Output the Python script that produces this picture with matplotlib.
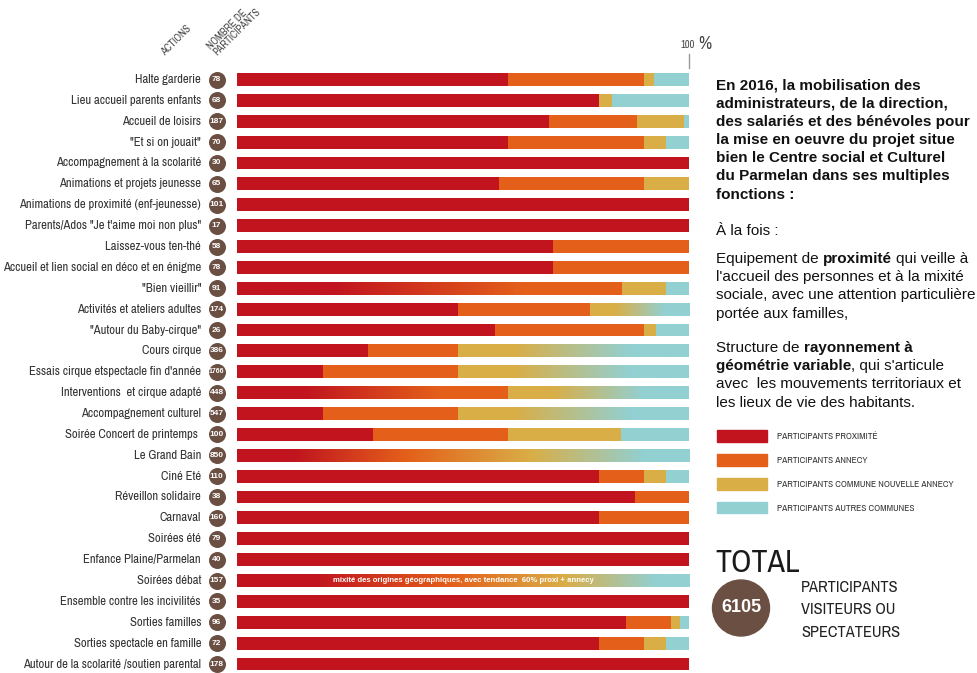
import numpy as np
import matplotlib
matplotlib.use("Agg")
import matplotlib.pyplot as plt
import matplotlib.patches as mpatches
import matplotlib.transforms as mtransforms
from matplotlib.colors import LinearSegmentedColormap
from matplotlib import font_manager

# --- data ---------------------------------------------------------------
actions = [
    "Halte garderie", "Lieu accueil parents enfants", "Accueil de loisirs",
    "\"Et si on jouait\"", "Accompagnement à la scolarité",
    "Animations et projets jeunesse", "Animations de proximité (enf-jeunesse)",
    "Parents/Ados \"Je t'aime moi non plus\"", "Laissez-vous ten-thé",
    "Accueil et lien social en déco et en énigme", "\"Bien vieillir\"",
    "Activités et ateliers adultes", "\"Autour du Baby-cirque\"", "Cours cirque",
    "Essais cirque etspectacle fin d'année", "Interventions  et cirque adapté",
    "Accompagnement culturel", "Soirée Concert de printemps ", "Le Grand Bain",
    "Ciné Eté", "Réveillon solidaire", "Carnaval", "Soirées été",
    "Enfance Plaine/Parmelan", "Soirées débat", "Ensemble contre les incivilités",
    "Sorties familles", "Sorties spectacle en famille",
    "Autour de la scolarité /soutien parental",
]
participants = [78, 68, 187, 70, 30, 65, 101, 17, 58, 78, 91, 174, 26, 386, 1766,
                448, 547, 100, 850, 110, 38, 160, 79, 40, 157, 35, 96, 72, 178]

# percentages per origin
proximite = [60, 80, 69, 60, 100, 58, 100, 100, 70, 70, 42.5, 49, 57, 29, 19,
             30, 19, 30, 25, 80, 88, 80, 100, 100, 35, 100, 86, 80, 100]
annecy = [30, 0, 19.5, 30, 0, 32, 0, 0, 30, 30, 42.5, 29, 33, 20, 30,
          30, 30, 30, 25, 10, 12, 20, 0, 0, 25, 0, 10, 10, 0]
commune_nouvelle = [2.3, 3, 10.5, 5, 0, 10, 0, 0, 0, 0, 10, 11, 2.8, 25.5, 25.5,
                    20, 25.5, 25, 30, 5, 0, 0, 0, 0, 25, 0, 2, 5, 0]
autres = [7.7, 17, 1, 5, 0, 0, 0, 0, 0, 0, 5, 11, 7.2, 25.5, 25.5,
          20, 25.5, 15, 20, 5, 0, 0, 0, 0, 15, 0, 2, 5, 0]

# rows where origins are shown as a blend (groups of segments)
melanges = {
    "\"Bien vieillir\"": [(0, 1)],
    "Activités et ateliers adultes": [(2, 3)],
    "Cours cirque": [(2, 3)],
    "Essais cirque etspectacle fin d'année": [(2, 3)],
    "Interventions  et cirque adapté": [(0, 1), (2, 3)],
    "Accompagnement culturel": [(2, 3)],
    "Le Grand Bain": [(0, 3)],
    "Soirées débat": [(0, 3)],
}

serie_labels = ["PARTICIPANTS PROXIMITÉ", "PARTICIPANTS ANNECY",
                "PARTICIPANTS COMMUNE NOUVELLE ANNECY", "PARTICIPANTS AUTRES COMMUNES"]
colors = ["#c1141f", "#e4601a", "#d9ae47", "#92d0d2"]
brown = "#6b4f43"
total = sum(participants)

# --- fonts ----------------------------------------------------------------
rank = {"ultra-condensed": 1, "extra-condensed": 0, "condensed": 2,
        "semi-condensed": 3}
cands = []
for f in font_manager.fontManager.ttflist:
    st = f.stretch if isinstance(f.stretch, str) else "normal"
    low = f.fname.lower()
    if "narrow" in low:
        st = "condensed"
    if st in rank and f.style == "normal" and f.weight in (400, "normal", "regular"):
        cands.append((rank[st], "narrow" not in low, f.fname))
cands.sort()
if cands:
    narrow = font_manager.FontProperties(fname=cands[0][2])
else:
    narrow = font_manager.FontProperties(family="DejaVu Sans")
names = {f.name for f in font_manager.fontManager.ttflist}
sans = "Liberation Sans" if "Liberation Sans" in names else "DejaVu Sans"


def nfont(size):
    p = narrow.copy()
    p.set_size(size)
    return p


W, H = 977, 673
fig = plt.figure(figsize=(W / 100, H / 100), dpi=100)


def px(x, y):
    return x / W, 1 - y / H


# --- bars -----------------------------------------------------------------
y_first, dy = 79.5, 20.875
top_px, bot_px = 68, 673
ax = fig.add_axes([237 / W, 1 - bot_px / H, 452 / W, (bot_px - top_px) / H])
n = len(actions)
rows = np.arange(n)
h = 0.62
series = [proximite, annecy, commune_nouvelle, autres]
left = np.zeros(n)
for vals, c in zip(series, colors):
    ax.barh(rows, vals, left=left, height=h, color=c, linewidth=0)
    left += np.array(vals)

for name, groups in melanges.items():
    i = actions.index(name)
    segs = [s[i] for s in series]
    starts = np.concatenate([[0], np.cumsum(segs)])
    for a, b in groups:
        x0, x1 = starts[a], starts[b + 1]
        stops = [(0.0, colors[a])]
        for k in range(a, b + 1):
            mid = (starts[k] + starts[k + 1]) / 2
            stops.append(((mid - x0) / (x1 - x0), colors[k]))
        stops.append((1.0, colors[b]))
        cmap = LinearSegmentedColormap.from_list("m", stops)
        ax.imshow(np.linspace(0, 1, 256)[None, :], cmap=cmap, aspect="auto",
                  extent=(x0, x1, i + h / 2, i - h / 2), interpolation="bilinear",
                  zorder=3)

i_debat = actions.index("Soirées débat")
ax.text(50, i_debat, "mixité des origines géographiques, avec tendance  60% proxi + annecy",
        ha="center", va="center", color="white", fontsize=5.6, fontweight="bold",
        family=sans, zorder=4)

ax.set_xlim(0, 100)
ax.set_ylim(28 + (bot_px - 664) / dy, (top_px - y_first) / dy)
ax.axis("off")

trans = mtransforms.blended_transform_factory(ax.transAxes, ax.transData)
x_lab = (201 - 237) / 452
x_circ = (216.5 - 237) / 452
for i, (name, p) in enumerate(zip(actions, participants)):
    ax.text(x_lab, i, name, transform=trans, ha="right", va="center",
            fontproperties=nfont(9.1), color="#333333")
    ax.text(x_circ, i, str(p), transform=trans, ha="center", va="center",
            fontsize=5 if p >= 1000 else 6, fontweight="bold", family=sans,
            color="white", zorder=5)
ax.scatter([x_circ] * n, rows, s=150, color=brown, transform=trans,
           clip_on=False, zorder=4, linewidths=0)

# --- headers --------------------------------------------------------------
fig.text(*px(176, 40), "ACTIONS", rotation=45, ha="center", va="center",
         fontproperties=nfont(7.5), color="#444444")
fig.text(*px(234, 29), "NOMBRE DE\nPARTICIPANTS", rotation=45, ha="center",
         va="center", fontproperties=nfont(7.5), color="#444444",
         linespacing=0.95, multialignment="left")
fig.text(*px(695, 45), "100", ha="right", va="center", fontproperties=nfont(7.5),
         color="#444444")
fig.text(*px(698, 44), "%", ha="left", va="center", fontproperties=nfont(13),
         color="#444444")
fig.add_artist(plt.Line2D([689 / W, 689 / W], [1 - 54 / H, 1 - 68 / H],
                          color="#999999", lw=1))

# --- right text -----------------------------------------------------------
renderer = fig.canvas.get_renderer()
fs = 11


def rich_line(x, y, pieces):
    space = 4.2
    for txt, w in pieces:
        if txt.startswith(","):
            x -= space
        t = fig.text(*px(x, y), txt, fontsize=fs, fontweight=w, family=sans,
                     color="#111111", va="center", ha="left")
        x += t.get_window_extent(renderer).width + space


bold_par = ["En 2016, la mobilisation des", "administrateurs, de la direction,",
            "des salariés et des bénévoles pour", "la mise en oeuvre du projet situe",
            "bien le Centre social et Culturel", "du Parmelan dans ses multiples",
            "fonctions :"]
for k, line in enumerate(bold_par):
    rich_line(716, 85 + k * 18.3, [(line, "bold")])
rich_line(716, 231, [("À la fois :", "normal")])
par2 = [[("Equipement de", "normal"), ("proximité", "bold"), ("qui veille à", "normal")],
        [("l'accueil des personnes et à la mixité", "normal")],
        [("sociale, avec une attention particulière", "normal")],
        [("portée aux familles,", "normal")]]
for k, line in enumerate(par2):
    rich_line(716, 259 + k * 18.2, line)
par3 = [[("Structure de", "normal"), ("rayonnement à", "bold")],
        [("géométrie variable", "bold"), (", qui s'articule", "normal")],
        [("avec  les mouvements territoriaux et", "normal")],
        [("les lieux de vie des habitants.", "normal")]]
for k, line in enumerate(par3):
    rich_line(716, 348 + k * 18.2, line)

# --- legend ---------------------------------------------------------------
handles = [mpatches.Patch(color=c, label=l) for c, l in zip(colors, serie_labels)]
fig.legend(handles=handles, loc="upper left", bbox_to_anchor=px(717, 430.5),
           frameon=False, prop=nfont(6.8),
           labelcolor="#333333", handlelength=5.3, handleheight=1.5,
           handletextpad=1.05, labelspacing=1.3, borderpad=0, borderaxespad=0)

# --- total ----------------------------------------------------------------
fig.text(*px(715, 563), "TOTAL", ha="left", va="center", fontproperties=nfont(23),
         color="#1a1a1a")
fig.add_artist(mpatches.Ellipse(px(741, 608), 57 / W, 56 / H, color=brown,
                                transform=fig.transFigure))
fig.text(*px(741, 608), str(total), ha="center", va="center", fontsize=13,
         fontweight="bold", family=sans, color="white")
fig.text(*px(801, 610), "PARTICIPANTS\nVISITEURS OU\nSPECTATEURS", ha="left",
         va="center", fontproperties=nfont(11.8), color="#222222",
         linespacing=1.6)

fig.savefig("out.png", dpi=100)
